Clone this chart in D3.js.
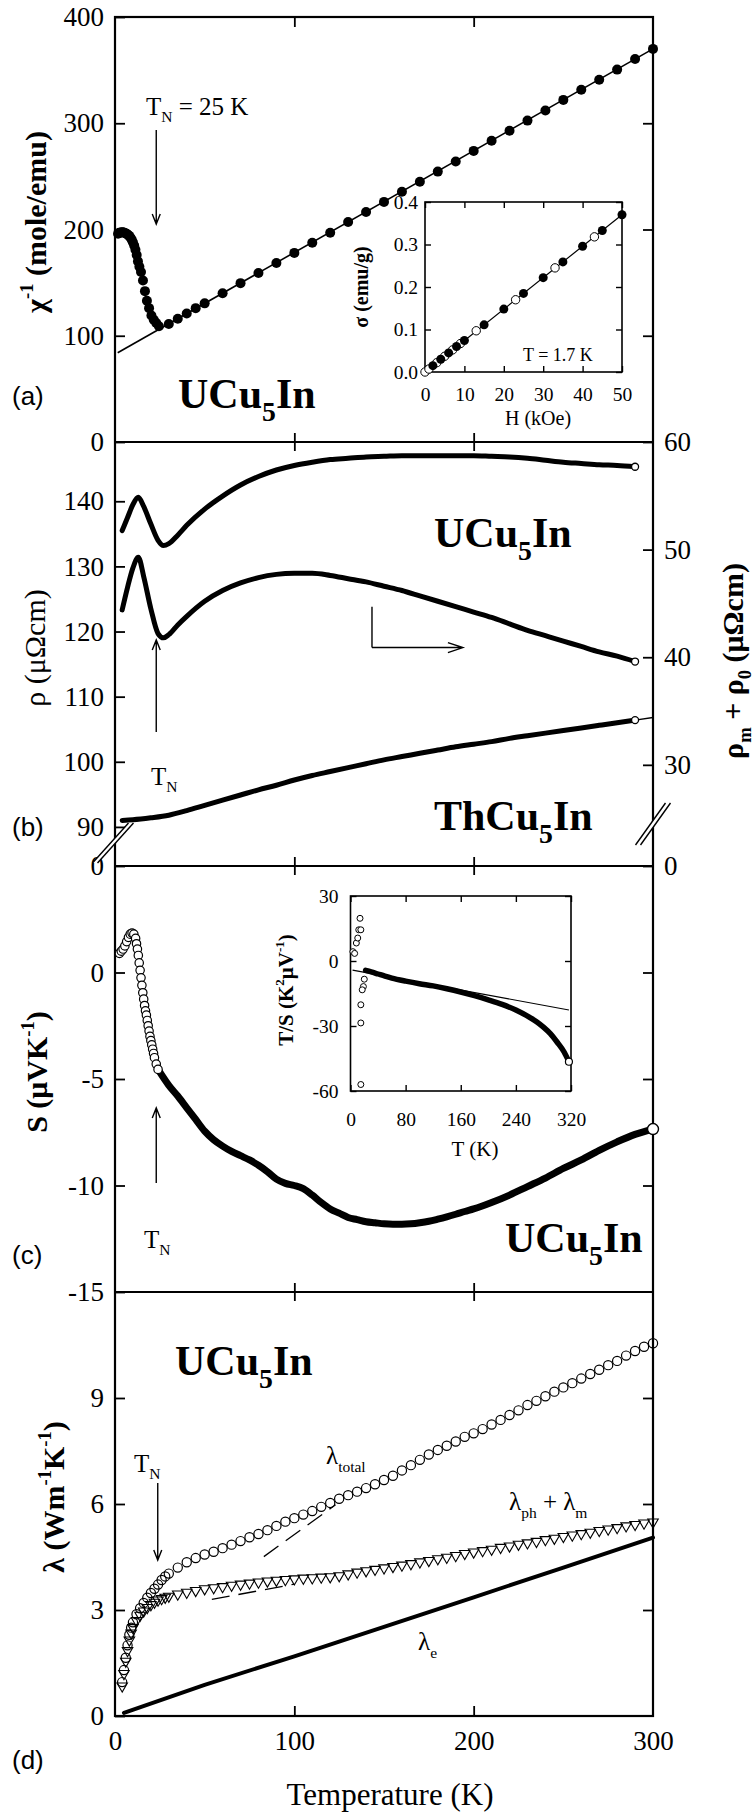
<!DOCTYPE html>
<html>
<head>
<meta charset="utf-8">
<script src="https://cdn.jsdelivr.net/npm/d3@7"></script>
<style>
  html, body { margin: 0; padding: 0; background: #fff; }
  svg { display: block; }
</style>
</head>
<body>
<svg id="chart" width="754" height="1818"></svg>
<script>
'use strict';

////////////////////////////////////////////////////////////////////////////////////
// data

// (a) inverse susceptibility
const chiT   = [1.7,2.3,3,3.7,4.4,5.1,5.8,6.5,7.2,7.9,8.6,9.3,10,10.7,11.4,12.1,12.8,13.6,14.5,15.6,16.7,17.8,19,20.3,21.6,23,24.5,
                30,35,40,45,50,60,70,80,90,100,110,120,130,140,150,160,170,180,190,200,210,220,230,240,250,260,270,280,290,300];
const chiInv = [196,197,197,197.5,197.5,197,196.5,196,195,194,192.5,190.5,188,185,181,176,170,165,160,152,142,133,126,119,115,112,109,
                111,116,121,126,130.5,140,149.5,159,168.5,178,187.5,197,207,216.5,226,235.5,245,254.5,264,274,283.5,293,302.5,312,322,331.5,341,350.5,360.5,370];
const cwFitT = [1.5, 300];
const cwFit  = [84, 370];

// (a) inset: magnetisation at 1.7 K
const magHFilled = [2,4,6,8,10,15,20,25,30,35,40,45,50];
const magSFilled = [0.015,0.03,0.045,0.06,0.074,0.111,0.148,0.185,0.222,0.259,0.296,0.333,0.37];
const magHOpen   = [0,1,3,5,7,9,13,23,33,43];
const magSOpen   = [0,0.007,0.022,0.037,0.052,0.067,0.097,0.17,0.245,0.318];
const magFitH = [0, 50];
const magFitS = [0, 0.37];

// (b) resistivity
const rhoT   = [4,7,10,13,16,20,24,27,30,35,40,50,60,70,80,90,100,110,120,130,140,150,160,170,180,190,200,210,220,230,240,250,260,270,280,290];
const rhoU   = [135.5,137.5,139.5,140.6,139.2,136.5,134,133.2,133.5,134.8,136.3,138.8,140.8,142.5,143.8,144.8,145.5,146,146.4,146.6,
                146.8,146.9,147,147,147,147,147,146.9,146.8,146.6,146.3,146,145.8,145.6,145.5,145.3];
const rhoMag = [44.4,46.5,48.3,49.3,47.5,44.5,42.2,41.8,42.1,43,43.8,45.2,46.2,46.9,47.4,47.7,47.8,47.8,47.6,47.3,
                47.0,46.6,46.2,45.7,45.2,44.7,44.2,43.7,43.1,42.5,42,41.5,41,40.5,40.1,39.6];
const rhoThT = [4,10,20,30,40,50,60,70,80,90,100,110,120,130,140,150,160,170,180,190,200,210,220,230,240,250,260,270,280,290];
const rhoTh  = [91.0,91.1,91.4,91.8,92.5,93.3,94.1,94.9,95.7,96.4,97.2,97.9,98.5,99.1,99.7,100.3,100.8,101.3,101.8,102.3,
                102.7,103.1,103.6,104.0,104.4,104.8,105.2,105.6,106.0,106.4];
const rhoThFitT = [290, 300];
const rhoThFit  = [106.4, 106.8];

// (c) thermopower
const sLowT = [2.5,3.5,4.5,5.5,6.5,7.5,8.5,9.5,10.5,11.5,12,12.5,13,13.5,14,14.5,15,15.5,16,16.5,17,17.5,18,18.5,19,19.5,20,20.5,21,21.5,22,23,24];
const sLow  = [0.9,1.0,1.1,1.25,1.45,1.65,1.8,1.85,1.8,1.6,1.35,1.1,0.8,0.45,0.1,-0.25,-0.6,-0.95,-1.25,-1.55,
               -1.8,-2.0,-2.25,-2.5,-2.75,-3.0,-3.2,-3.4,-3.6,-3.8,-4.0,-4.3,-4.55];
const sT    = [24,30,35,40,45,50,55,60,65,70,75,80,85,90,95,100,105,110,115,120,125,130,135,140,145,150,155,160,165,170,
               175,180,185,190,195,200,210,220,230,240,250,260,270,280,290,300];
const sVal  = [-4.55,-5.3,-5.8,-6.35,-6.9,-7.45,-7.85,-8.15,-8.4,-8.6,-8.8,-9.05,-9.35,-9.7,-9.9,-10.0,-10.15,-10.45,-10.8,-11.1,
               -11.3,-11.5,-11.6,-11.7,-11.75,-11.8,-11.82,-11.82,-11.8,-11.75,-11.68,-11.58,-11.47,-11.35,-11.22,-11.1,
               -10.8,-10.45,-10.05,-9.65,-9.2,-8.8,-8.35,-7.95,-7.6,-7.35];

// (c) inset: T/S
const tsLowT = [3.5,6,8.5,10.5,12,15,13.8,20,18.7,17,15,15,15];
const tsLow  = [4.3,3.5,8.3,10.6,14.4,14.4,19.7,-8.4,-11.8,-13.3,-20.2,-28.6,-57];
const tsT    = [22,30,40,50,60,80,100,120,140,160,180,200,220,240,260,270,280,290,300,310,317];
const tsVal  = [-4.3,-5.0,-6.0,-7.0,-7.9,-9.3,-10.5,-11.5,-12.8,-14.3,-16.0,-17.9,-20.0,-22.6,-26.0,-28.0,-30.5,-33.5,-37.5,-42.0,-46.5];
const tsFitT = [3, 317];
const tsFit  = [-4.2, -22.6];

// (d) thermal conductivity
const kT     = [4,5,6,7,8,9,10,12,14,16,18,20,22,24,26,28,
                30,35,40,45,50,55,60,65,70,75,80,85,90,95,100,105,110,115,120,125,130,135,140,145,150,155,160,165,170,175,
                180,185,190,195,200,205,210,215,220,225,230,235,240,245,250,255,260,265,270,275,280,285,290,295,300];
const kTotal = [0.96,1.3,1.65,2.0,2.3,2.5,2.65,2.88,3.05,3.2,3.35,3.48,3.6,3.72,3.85,3.95,
                4.03,4.2,4.35,4.47,4.57,4.65,4.75,4.85,4.95,5.06,5.15,5.26,5.38,5.5,5.6,5.7,5.8,5.92,6.03,6.15,
                6.25,6.35,6.45,6.56,6.68,6.8,6.95,7.1,7.25,7.4,7.53,7.65,7.77,7.9,8.0,8.12,8.25,8.38,8.52,8.65,
                8.8,8.92,9.05,9.18,9.3,9.42,9.55,9.68,9.8,9.93,10.05,10.2,10.33,10.45,10.55];
const kPhM   = [0.85,1.2,1.55,1.85,2.15,2.35,2.5,2.7,2.85,2.97,3.07,3.15,3.22,3.28,3.32,3.36,
                3.39,3.45,3.5,3.55,3.6,3.63,3.66,3.7,3.73,3.76,3.79,3.82,3.84,3.86,3.88,3.9,3.91,3.93,3.94,3.97,
                4.02,4.07,4.11,4.15,4.19,4.23,4.27,4.31,4.36,4.4,4.45,4.49,4.54,4.6,4.64,4.68,4.72,4.77,4.81,4.86,
                4.9,4.94,4.99,5.03,5.08,5.12,5.16,5.2,5.25,5.29,5.33,5.38,5.42,5.46,5.49];
const kElT   = [5,50,100,150,200,250,300];
const kEl    = [0.09,0.88,1.69,2.52,3.36,4.2,5.05];
const kDashAT = [83,123], kDashA = [4.51,5.98];
const kDashBT = [54,100], kDashB = [3.3,3.73];

// ticks
const tempTicks   = [0,100,200,300];
const chiTicks    = [0,100,200,300,400];
const rhoTicks    = [90,100,110,120,130,140];
const rhoMagTicks = [30,40,50,60];
const sTicks      = [-15,-10,-5,0];
const kTicks      = [0,3,6,9];
const tN = 23;   // where the T_N arrows sit

////////////////////////////////////////////////////////////////////////////////////
// layout

const SERIF = '"Liberation Serif","Times New Roman",Times,serif';
const SANS  = '"Liberation Sans",Arial,sans-serif';
const svg = d3.select('#chart');
const left = 115, right = 653;
const tops = [17, 442, 866, 1292], bottom = 1716;

const x   = d3.scaleLinear().domain([0,300]).range([left,right]);
const yA  = d3.scaleLinear().domain([0,400]).range([tops[1],tops[0]]);
const yB  = d3.scaleLinear().domain([84,149.1]).range([tops[2],tops[1]]);
const yB2 = d3.scaleLinear().domain([20.6,60]).range([tops[2],tops[1]]);
const yC  = d3.scaleLinear().domain([-15,5]).range([tops[3],tops[2]]);
const yD  = d3.scaleLinear().domain([0,12]).range([bottom,tops[3]]);

const xIa = d3.scaleLinear().domain([0,50]).range([425,622]);
const yIa = d3.scaleLinear().domain([0,0.4]).range([372,202]);
const xIc = d3.scaleLinear().domain([0,320]).range([350.5,571]);
const yIc = d3.scaleLinear().domain([-60,30]).range([1091,896]);

const pts = (xs, ys) => d3.zip(xs, ys);
const noLabel = () => '';

////////////////////////////////////////////////////////////////////////////////////
// helpers

function richText(px, py, parts, o) {
  const t = svg.append('text')
    .attr('transform', `translate(${px},${py})` + (o.rotate ? ` rotate(${o.rotate})` : ''))
    .attr('font-family', o.family || SERIF)
    .attr('font-size', o.size)
    .attr('font-weight', o.weight || 'normal')
    .attr('text-anchor', o.anchor || 'start');
  let shift = 0;
  parts.forEach(p => {
    const s = typeof p === 'string' ? { t: p } : p;
    const off = s.sup ? -o.size * 0.42 : s.sub ? o.size * (o.subDrop || 0.28) : 0;
    t.append('tspan')
      .attr('dy', off - shift)
      .attr('font-size', (s.sup || s.sub) ? o.size * (o.scriptScale || 0.62) : o.size)
      .text(s.t);
    shift = off;
  });
  return t;
}

function arrow(x1, y1, x2, y2, len, hw) {
  len = len || 10; hw = hw || 4;
  const a = Math.atan2(y2 - y1, x2 - x1);
  const p = d3.path();
  p.moveTo(x1, y1); p.lineTo(x2, y2);
  p.moveTo(x2 - len*Math.cos(a) + hw*Math.sin(a), y2 - len*Math.sin(a) - hw*Math.cos(a));
  p.lineTo(x2, y2);
  p.lineTo(x2 - len*Math.cos(a) - hw*Math.sin(a), y2 - len*Math.sin(a) + hw*Math.cos(a));
  svg.append('path').attr('d', p.toString()).attr('fill','none').attr('stroke','#000').attr('stroke-width',1.4);
}

// d3 axes write their own font attrs on the group, so restyle after the call
function styleAxis(g, size) {
  g.attr('font-family', SERIF).attr('font-size', size);
  g.select('.domain').remove();
  g.selectAll('.tick line').attr('stroke','#000');
  g.selectAll('.tick text').attr('fill','#000');
  return g;
}

function yAxis(scale, vals, side, fmt) {
  const ax = (side === 'left' ? d3.axisLeft(scale) : d3.axisRight(scale))
    .tickValues(vals).tickSizeInner(-10).tickSizeOuter(0).tickPadding(11)
    .tickFormat(fmt === undefined ? (d => d) : fmt);
  const g = svg.append('g')
    .attr('transform', `translate(${side === 'left' ? left : right},0)`)
    .call(ax);
  styleAxis(g, 27).selectAll('.tick line').attr('stroke-width',1.8);
  return g;
}

function xTicksAt(yPos, up, down, labels) {
  if (down) {
    const g = svg.append('g').attr('transform', `translate(0,${yPos})`)
      .call(d3.axisBottom(x).tickValues([100,200]).tickSize(down).tickFormat(noLabel));
    styleAxis(g, 27).selectAll('.tick line').attr('stroke-width',1.8);
  }
  if (up) {
    const g = svg.append('g').attr('transform', `translate(0,${yPos})`)
      .call(d3.axisTop(x).tickValues([100,200]).tickSize(up).tickFormat(noLabel));
    styleAxis(g, 27).selectAll('.tick line').attr('stroke-width',1.8);
  }
  if (labels) {
    const g = svg.append('g').attr('transform', `translate(0,${yPos})`)
      .call(d3.axisBottom(x).tickValues(tempTicks).tickSize(0).tickPadding(15).tickFormat(d => d));
    styleAxis(g, 27);
  }
}

function inset(xs, ys, xVals, yVals, fmtY, xPad, yPad) {
  const [x0, x1] = xs.range(), [y0, y1] = ys.range();
  svg.append('rect').attr('x', x0).attr('y', y1).attr('width', x1 - x0).attr('height', y0 - y1)
    .attr('fill','#fff').attr('stroke','#000').attr('stroke-width',1.6);
  const mk = (axis, tx, ty, vals, fmt, pad) => {
    const g = svg.append('g').attr('transform', `translate(${tx},${ty})`)
      .call(axis.tickValues(vals).tickSizeInner(-6).tickSizeOuter(0).tickPadding(pad || 4).tickFormat(fmt));
    styleAxis(g, 19.5).selectAll('.tick line').attr('stroke-width',1.4);
  };
  mk(d3.axisBottom(xs), 0, y0, xVals, d => d, xPad);
  mk(d3.axisTop(xs), 0, y1, xVals, noLabel);
  mk(d3.axisLeft(ys), x0, 0, yVals, fmtY, yPad);
  mk(d3.axisRight(ys), x1, 0, yVals, noLabel);
}

function breakMark(cx, cy, dx, dy, gap) {
  const a = [cx - dx - gap/2, cy + dy], b = [cx + dx - gap/2, cy - dy];
  const c = [cx + dx + gap/2, cy - dy], d = [cx - dx + gap/2, cy + dy];
  svg.append('polygon').attr('points', [a,b,c,d].map(p => p.join(',')).join(' ')).attr('fill','#fff');
  svg.append('line').attr('x1',a[0]).attr('y1',a[1]).attr('x2',b[0]).attr('y2',b[1]).attr('stroke','#000').attr('stroke-width',1.4);
  svg.append('line').attr('x1',d[0]).attr('y1',d[1]).attr('x2',c[0]).attr('y2',c[1]).attr('stroke','#000').attr('stroke-width',1.4);
}

function compound(px, py, name) {
  richText(px, py, [name[0], { t: '5', sub: true }, name[1]],
    { size: 42, weight: 'bold', scriptScale: 0.66, subDrop: 0.3 });
}

////////////////////////////////////////////////////////////////////////////////////
// frame + axes

svg.append('rect').attr('x', left).attr('y', tops[0]).attr('width', right - left).attr('height', bottom - tops[0])
  .attr('fill','none').attr('stroke','#000').attr('stroke-width',2.2);
tops.slice(1).forEach(t => {
  svg.append('line').attr('x1', left).attr('x2', right).attr('y1', t).attr('y2', t)
    .attr('stroke','#000').attr('stroke-width',2.2);
  xTicksAt(t, 9, 9, false);
});
xTicksAt(tops[0], 0, 10, false);
xTicksAt(bottom, 10, 0, true);

yAxis(yA, chiTicks, 'left');
yAxis(yA, [100,200,300], 'right', noLabel);
yAxis(yB, [84].concat(rhoTicks), 'left', d => (d === 84 ? '0' : d));
yAxis(yB2, [yB2.domain()[0]].concat(rhoMagTicks), 'right', d => (d < 25 ? '0' : d));
yAxis(yC, sTicks, 'left');
yAxis(yC, [-10,-5,0], 'right', noLabel);
yAxis(yD, kTicks, 'left');
yAxis(yD, [3,6,9], 'right', noLabel);

breakMark(113, 843, 18, 20, 5);
breakMark(653, 824, 15, 21, 5);

////////////////////////////////////////////////////////////////////////////////////
// (a)

const lineA = d3.line().x(d => x(d[0])).y(d => yA(d[1]));
svg.append('path').attr('d', lineA(pts(cwFitT, cwFit))).attr('fill','none').attr('stroke','#000').attr('stroke-width',1.6);
svg.append('g').selectAll('circle').data(pts(chiT, chiInv)).join('circle')
  .attr('cx', d => x(d[0])).attr('cy', d => yA(d[1])).attr('r', 5).attr('fill','#000');

inset(xIa, yIa, [0,10,20,30,40,50], [0,0.1,0.2,0.3,0.4], d3.format('.1f'), 15, 7);
const lineIa = d3.line().x(d => xIa(d[0])).y(d => yIa(d[1]));
svg.append('path').attr('d', lineIa(pts(magFitH, magFitS))).attr('fill','none').attr('stroke','#000').attr('stroke-width',1.2);
svg.append('g').selectAll('circle').data(pts(magHOpen, magSOpen)).join('circle')
  .attr('cx', d => xIa(d[0])).attr('cy', d => yIa(d[1])).attr('r', 4.2)
  .attr('fill','#fff').attr('stroke','#000').attr('stroke-width',1);
svg.append('g').selectAll('circle').data(pts(magHFilled, magSFilled)).join('circle')
  .attr('cx', d => xIa(d[0])).attr('cy', d => yIa(d[1])).attr('r', 4.5).attr('fill','#000');

richText(523, 361, ['T = 1.7 K'], { size: 18 });
richText(538, 425, ['H (kOe)'], { size: 20, anchor: 'middle' });
richText(368, 287, ['σ (emu/g)'], { size: 20, anchor: 'middle', rotate: -90, weight: 'bold' });

richText(146, 115, ['T', { t: 'N', sub: true }, ' = 25 K'], { size: 25 });
arrow(x(tN), 130, x(tN), 224);
compound(178, 408, ['UCu', 'In']);

////////////////////////////////////////////////////////////////////////////////////
// (b)

const thick = (sel, w) => sel.attr('fill','none').attr('stroke','#000').attr('stroke-width', w)
  .attr('stroke-linejoin','round').attr('stroke-linecap','round');
const lineBL = d3.line().x(d => x(d[0])).y(d => yB(d[1])).curve(d3.curveMonotoneX);
const lineBR = d3.line().x(d => x(d[0])).y(d => yB2(d[1])).curve(d3.curveMonotoneX);

svg.append('path').attr('d', d3.line().x(d => x(d[0])).y(d => yB(d[1]))(pts(rhoThFitT, rhoThFit)))
  .attr('fill','none').attr('stroke','#000').attr('stroke-width',1.4);
thick(svg.append('path').attr('d', lineBL(pts(rhoT, rhoU))), 5);
thick(svg.append('path').attr('d', lineBR(pts(rhoT, rhoMag))), 5);
thick(svg.append('path').attr('d', lineBL(pts(rhoThT, rhoTh))), 5);
[[rhoT, rhoU, yB], [rhoT, rhoMag, yB2], [rhoThT, rhoTh, yB]].forEach(([ts, vs, ys]) => {
  svg.append('circle').attr('cx', x(ts[ts.length-1])).attr('cy', ys(vs[vs.length-1])).attr('r', 3.5)
    .attr('fill','#fff').attr('stroke','#000').attr('stroke-width',1.3);
});

// right-pointing "use right axis" marker
svg.append('path').attr('d', d3.line()([[x(143.3), yB2(44.7)], [x(143.3), yB2(40.9)]]))
  .attr('stroke','#000').attr('stroke-width',1.4);
arrow(x(143.3), yB2(40.9), x(194), yB2(40.9), 15, 5);

arrow(x(tN), 732, x(tN), 640);
richText(151, 785, ['T', { t: 'N', sub: true }], { size: 25 });
compound(434, 547, ['UCu', 'In']);
compound(434, 830, ['ThCu', 'In']);

richText(45, 648, ['ρ (μΩcm)'], { size: 30, anchor: 'middle', rotate: -90 });
richText(743, 661, ['ρ', { t: 'm', sub: true }, ' + ρ', { t: '0', sub: true }, ' (μΩcm)'],
  { size: 30, anchor: 'middle', rotate: -90, weight: 'bold' });

////////////////////////////////////////////////////////////////////////////////////
// (c)

const lineC = d3.line().x(d => x(d[0])).y(d => yC(d[1])).curve(d3.curveMonotoneX);
thick(svg.append('path').attr('d', lineC(pts(sT, sVal))), 7);
svg.append('g').selectAll('circle').data(pts(sLowT, sLow)).join('circle')
  .attr('cx', d => x(d[0])).attr('cy', d => yC(d[1])).attr('r', 4.2)
  .attr('fill','#fff').attr('stroke','#000').attr('stroke-width',1.2);
svg.append('circle').attr('cx', x(sT[sT.length-1])).attr('cy', yC(sVal[sVal.length-1])).attr('r', 5.5)
  .attr('fill','#fff').attr('stroke','#000').attr('stroke-width',1.4);

inset(xIc, yIc, [0,80,160,240,320], [-60,-30,0,30], d => d, 21, 12);
const lineIc = d3.line().x(d => xIc(d[0])).y(d => yIc(d[1])).curve(d3.curveMonotoneX);
svg.append('path').attr('d', lineIc(pts(tsFitT, tsFit))).attr('fill','none').attr('stroke','#000').attr('stroke-width',1.2);
thick(svg.append('path').attr('d', lineIc(pts(tsT, tsVal))), 5.5);
svg.append('g').selectAll('circle').data(pts(tsLowT, tsLow)).join('circle')
  .attr('cx', d => xIc(d[0])).attr('cy', d => yIc(d[1])).attr('r', 3)
  .attr('fill','#fff').attr('stroke','#000').attr('stroke-width',1);
svg.append('circle').attr('cx', xIc(tsT[tsT.length-1])).attr('cy', yIc(tsVal[tsVal.length-1])).attr('r', 3.5)
  .attr('fill','#fff').attr('stroke','#000').attr('stroke-width',1.2);

richText(475, 1156, ['T (K)'], { size: 21, anchor: 'middle' });
richText(293, 990, ['T/S (K', { t: '2', sup: true }, 'μV', { t: '-1', sup: true }, ')'],
  { size: 21, anchor: 'middle', rotate: -90, weight: 'bold' });

arrow(x(tN), 1183, x(tN), 1108);
richText(144, 1248, ['T', { t: 'N', sub: true }], { size: 25 });
compound(505, 1252, ['UCu', 'In']);
richText(47, 1072, ['S (μVK', { t: '-1', sup: true }, ')'], { size: 30, anchor: 'middle', rotate: -90, weight: 'bold' });

////////////////////////////////////////////////////////////////////////////////////
// (d)

const lineD = d3.line().x(d => x(d[0])).y(d => yD(d[1]));
thick(svg.append('path').attr('d', lineD(pts(kElT, kEl))), 4);
[[kDashAT, kDashA], [kDashBT, kDashB]].forEach(([ts, vs]) => {
  svg.append('path').attr('d', lineD(pts(ts, vs))).attr('fill','none').attr('stroke','#000')
    .attr('stroke-width',1.3).attr('stroke-dasharray','18,9');
});
svg.append('g').selectAll('path').data(pts(kT, kPhM)).join('path')
  .attr('d', d3.symbol(d3.symbolTriangle, 48))
  .attr('transform', d => `translate(${x(d[0])},${yD(d[1])}) rotate(180)`)
  .attr('fill','none').attr('stroke','#000').attr('stroke-width',1.1);
svg.append('g').selectAll('circle').data(pts(kT, kTotal)).join('circle')
  .attr('cx', d => x(d[0])).attr('cy', d => yD(d[1])).attr('r', 4.6)
  .attr('fill','none').attr('stroke','#000').attr('stroke-width',1.2);

richText(326, 1464, ['λ', { t: 'total', sub: true }], { size: 25, subDrop: 0.3 });
richText(509, 1510, ['λ', { t: 'ph', sub: true }, ' + λ', { t: 'm', sub: true }], { size: 25, subDrop: 0.3 });
richText(418, 1650, ['λ', { t: 'e', sub: true }], { size: 25, subDrop: 0.3 });

richText(134, 1472, ['T', { t: 'N', sub: true }], { size: 25 });
arrow(x(tN) + 1.5, 1483, x(tN) + 1.5, 1560);
compound(175, 1375, ['UCu', 'In']);
richText(64, 1497, ['λ (Wm', { t: '-1', sup: true }, 'K', { t: '-1', sup: true }, ')'],
  { size: 30, anchor: 'middle', rotate: -90, weight: 'bold' });

richText(390, 1805, ['Temperature (K)'], { size: 31, anchor: 'middle' });

////////////////////////////////////////////////////////////////////////////////////
// titles

richText(46, 222, ['χ', { t: '-1', sup: true }, ' (mole/emu)'], { size: 30, anchor: 'middle', rotate: -90, weight: 'bold' });

[['(a)', 405], ['(b)', 836], ['(c)', 1264], ['(d)', 1769]].forEach(([t, yy]) => {
  richText(12, yy, [t], { size: 26, family: SANS });
});
</script>
</body>
</html>
